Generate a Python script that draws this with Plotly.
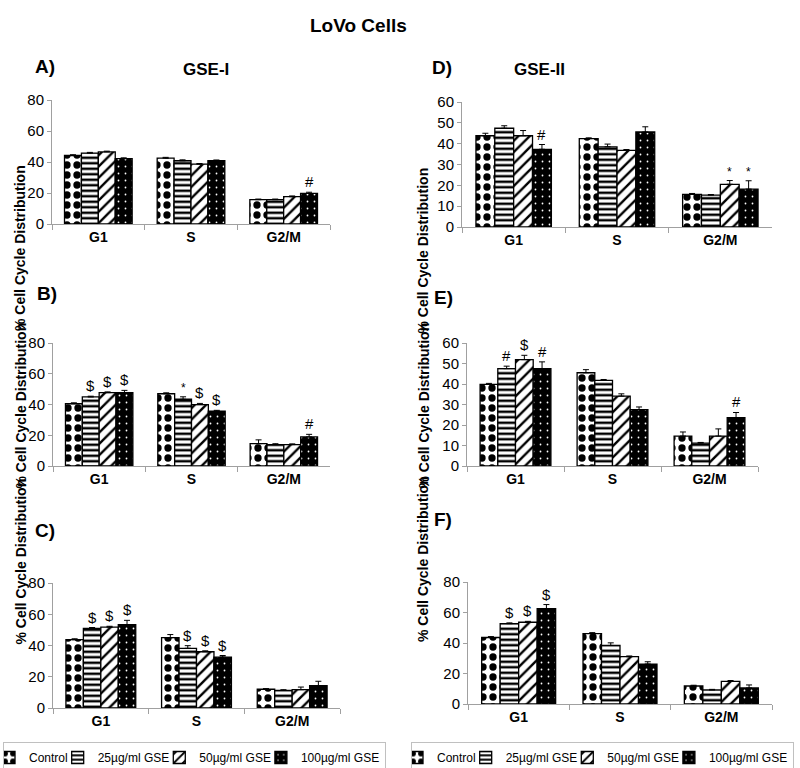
import plotly.graph_objects as go

W, H = 800, 768
FONT = "Liberation Sans, Arial, sans-serif"

categories = ["G1", "S", "G2/M"]
series_names = ["Control", "25µg/ml GSE", "50µg/ml GSE", "100µg/ml GSE"]

# values[series][category], errors[series][category], marks: (series, category, symbol)
a_values = [[44.2, 42.5, 15.7], [45.7, 40.8, 15.7], [46.5, 38.6, 17.6], [42.2, 40.8, 19.7]]
a_errors = [[0.5, 0.5, 0.4], [0.5, 0.6, 0.4], [0.5, 0.4, 0.5], [0.5, 0.5, 0.8]]
a_marks = [(3, 2, "#")]

b_values = [[40.5, 47.0, 14.5], [44.9, 43.4, 13.9], [47.7, 39.9, 13.9], [47.7, 35.6, 18.9]]
b_errors = [[0.6, 0.6, 2.5], [0.5, 1.6, 0.6], [0.5, 0.8, 0.5], [1.5, 0.6, 1.7]]
b_marks = [(1, 0, "$"), (2, 0, "$"), (3, 0, "$"), (1, 1, "*"), (2, 1, "$"), (3, 1, "$"), (3, 2, "#")]

c_values = [[43.7, 45.0, 12.0], [51.0, 38.2, 11.3], [51.8, 36.0, 11.7], [53.3, 32.6, 14.3]]
c_errors = [[0.6, 2.0, 0.4], [0.5, 1.7, 0.4], [0.5, 0.6, 1.7], [2.8, 1.0, 2.8]]
c_marks = [(1, 0, "$"), (2, 0, "$"), (3, 0, "$"), (1, 1, "$"), (2, 1, "$"), (3, 1, "$")]

d_values = [[43.8, 42.4, 15.7], [47.4, 38.5, 15.3], [43.8, 36.8, 20.5], [37.3, 45.6, 18.2]]
d_errors = [[1.2, 0.4, 0.4], [1.2, 1.3, 0.3], [2.5, 0.4, 1.8], [2.3, 2.5, 4.0]]
d_marks = [(3, 0, "#"), (2, 2, "*"), (3, 2, "*")]

e_values = [[39.8, 45.5, 14.6], [47.5, 41.8, 11.2], [51.9, 34.1, 14.6], [47.5, 27.5, 23.6]]
e_errors = [[0.5, 1.5, 2.0], [1.2, 0.4, 0.3], [2.1, 1.1, 3.5], [3.3, 1.3, 2.5]]
e_marks = [(1, 0, "#"), (2, 0, "$"), (3, 0, "#"), (3, 2, "#")]

f_values = [[43.6, 46.2, 11.8], [52.7, 38.4, 9.2], [53.6, 31.0, 14.8], [62.6, 26.2, 10.5]]
f_errors = [[0.6, 0.6, 0.5], [0.5, 1.7, 0.4], [0.6, 0.5, 0.6], [2.6, 1.5, 2.0]]
f_marks = [(1, 0, "$"), (2, 0, "$"), (3, 0, "$")]

y_ticks_80 = [0, 20, 40, 60, 80]
y_ticks_60 = [0, 10, 20, 30, 40, 50, 60]

patterns = [
    dict(shape=".", fgcolor="black", bgcolor="white", size=10, solidity=0.42, fillmode="replace"),
    dict(shape="-", fgcolor="black", bgcolor="white", size=5.5, solidity=0.45, fillmode="replace"),
    dict(shape="/", fgcolor="black", bgcolor="white", size=8, solidity=0.3, fillmode="replace"),
    dict(shape=".", fgcolor="white", bgcolor="black", size=7, solidity=0.05, fillmode="replace"),
]
fill_colors = ["white", "white", "white", "black"]

# panel: (id, values, errors, marks, ticks, xdom px, ydom px (top, bottom), letter, letter pos, legend)
panels = [
    ("", a_values, a_errors, a_marks, y_ticks_80, (52, 330), (100, 224), "A)", (33, 54), None),
    ("2", b_values, b_errors, b_marks, y_ticks_80, (53, 330), (343, 466), "B)", (35, 293), None),
    ("3", c_values, c_errors, c_marks, y_ticks_80, (53, 340), (583, 708), "C)", (33, 543), "legend"),
    ("4", d_values, d_errors, d_marks, y_ticks_60, (462, 772), (102, 227), "D)", (442, 55), None),
    ("5", e_values, e_errors, e_marks, y_ticks_60, (467, 758), (343, 466), "E)", (443, 298), None),
    ("6", f_values, f_errors, f_marks, y_ticks_80, (468, 772), (582, 704), "F)", (443, 532), "legend2"),
]

BARGAP = 0.27
bar_w = (1 - BARGAP) / 4
offsets = [(-1.5 + i) * bar_w for i in range(4)]

fig = go.Figure()
annotations = []
layout_axes = {}

def px_x(x):
    return x / W

def px_y(y):
    return 1 - y / H

for pid, vals, errs, marks, ticks, xd, yd, letter, lpos, leg in panels:
    xa, ya = "x" + pid, "y" + pid
    for s in range(4):
        fig.add_trace(go.Bar(
            x=categories, y=vals[s], name=series_names[s],
            xaxis=xa, yaxis=ya,
            marker=dict(color=fill_colors[s], pattern=patterns[s],
                        line=dict(color="black", width=1.3)),
            error_y=dict(type="data", array=errs[s], arrayminus=[0] * 3, symmetric=False,
                         color="black", thickness=1, width=3),
            showlegend=leg is not None,
            legend=leg if leg else "legend",
        ))
    for s, c, sym in marks:
        annotations.append(dict(
            x=c + offsets[s], y=vals[s][c] + errs[s][c], xref=xa, yref=ya,
            text=sym, showarrow=False, yanchor="bottom", yshift=0,
            font=dict(family=FONT, size=12 if sym == "*" else 15, color="black"),
        ))
    layout_axes["xaxis" + pid] = dict(
        domain=[px_x(xd[0]), px_x(xd[1])], anchor=ya, range=[-0.5, 2.5],
        showline=True, linecolor="#a0a0a0", linewidth=1,
        ticks="outside", tickson="boundaries", ticklen=5, tickcolor="#a0a0a0",
        tickfont=dict(family=FONT, size=14, color="black", weight="bold"),
        showgrid=False, fixedrange=True,
    )
    layout_axes["yaxis" + pid] = dict(
        domain=[px_y(yd[1]), px_y(yd[0])], anchor=xa, range=[0, ticks[-1]],
        tickvals=ticks, showline=True, linecolor="#a0a0a0", linewidth=1,
        ticks="outside", ticklen=4, tickcolor="#a0a0a0",
        tickfont=dict(family=FONT, size=15, color="black"),
        showgrid=False, zeroline=False,
    )
    # panel letter
    annotations.append(dict(x=px_x(lpos[0]), y=px_y(lpos[1]), xref="paper", yref="paper",
                            text="<b>" + letter + "</b>", showarrow=False,
                            font=dict(family=FONT, size=19, color="black")))
    # y-axis title
    tx = 10 if xd[0] < 400 else 423
    annotations.append(dict(x=px_x(tx), y=px_y((yd[0] + yd[1]) / 2 + 1), xref="paper", yref="paper",
                            text="<b>% Cell Cycle Distribution</b>", textangle=-90, showarrow=False,
                            font=dict(family=FONT, size=14, color="black")))

annotations.append(dict(x=px_x(358), y=px_y(13), xref="paper", yref="paper",
                        text="<b>LoVo Cells</b>", showarrow=False,
                        font=dict(family=FONT, size=19, color="black")))
annotations.append(dict(x=px_x(181), y=px_y(58), xref="paper", yref="paper",
                        text="<b>GSE-I</b>", showarrow=False,
                        font=dict(family=FONT, size=17, color="black")))
annotations.append(dict(x=px_x(567), y=px_y(58), xref="paper", yref="paper",
                        text="<b>GSE-II</b>", showarrow=False,
                        font=dict(family=FONT, size=17, color="black")))

legend_common = dict(orientation="h", xanchor="left", yanchor="top",
                     bordercolor="#c0c0c0", borderwidth=1, bgcolor="white",
                     font=dict(family=FONT, size=12, color="black"),
                     itemwidth=30, indentation=-15, tracegroupgap=0)

fig.update_layout(
    width=W, height=H, margin=dict(l=0, r=0, t=0, b=0, autoexpand=False),
    paper_bgcolor="white", plot_bgcolor="white",
    barmode="group", bargap=BARGAP, bargroupgap=0,
    font=dict(family=FONT, color="black"),
    annotations=annotations,
    legend=dict(x=px_x(3), y=px_y(742), **legend_common),
    legend2=dict(x=px_x(411), y=px_y(742), **legend_common),
    **layout_axes,
)

fig.write_html("out.html", config={"displayModeBar": False},
               post_script="document.body.style.margin='0px';")
